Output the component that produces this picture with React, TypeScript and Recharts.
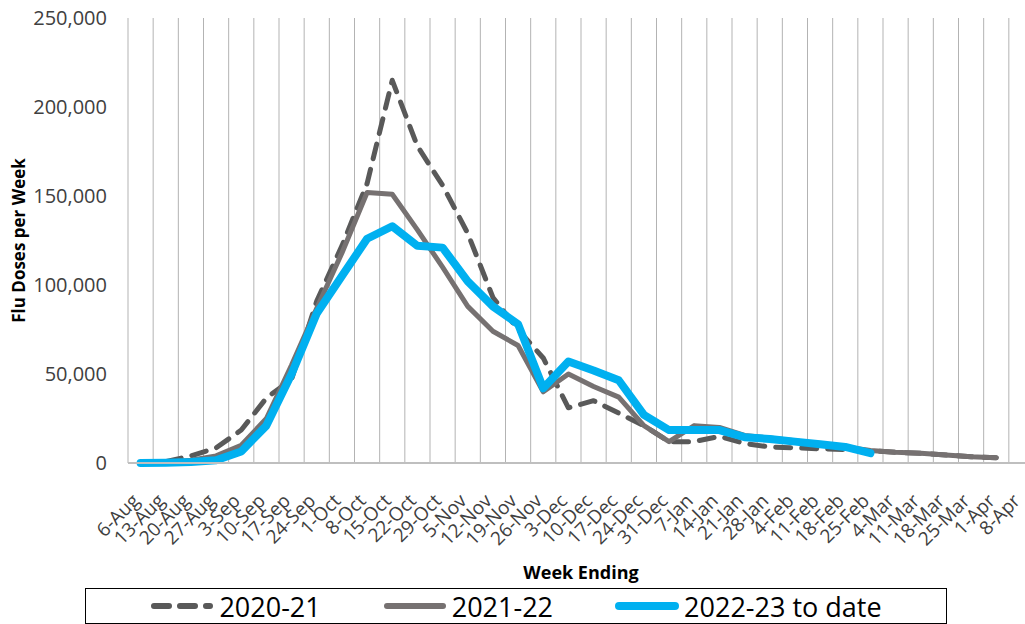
import { CartesianGrid, Line, LineChart, XAxis, YAxis } from "recharts"

const weeks = [
  "6-Aug", "13-Aug", "20-Aug", "27-Aug", "3-Sep", "10-Sep", "17-Sep", "24-Sep",
  "1-Oct", "8-Oct", "15-Oct", "22-Oct", "29-Oct", "5-Nov", "12-Nov", "19-Nov",
  "26-Nov", "3-Dec", "10-Dec", "17-Dec", "24-Dec", "31-Dec", "7-Jan", "14-Jan",
  "21-Jan", "28-Jan", "4-Feb", "11-Feb", "18-Feb", "25-Feb", "4-Mar", "11-Mar",
  "18-Mar", "25-Mar", "1-Apr", "8-Apr",
]

const season2020 = [
  0, 800, 4000, 8500, 18500, 36500, 47000, 91000, 122000, 157000, 215000, 178000,
  156000, 129000, 93000, 75000, 59000, 31000, 35000, 28000, 21000, 12000, 12000, 15000,
  11000, 9000, 8500, 8000, 7500, 7000, 6000, 5500, 4500, 3500, 3000, null,
]

const season2021 = [
  0, 300, 1500, 4000, 10000, 25000, 55000, 87000, 118000, 152000, 151000, 131000,
  110000, 88000, 74000, 66000, 40000, 50000, 43000, 37000, 21000, 12000, 21000, 20000,
  15500, 14000, 12500, 10500, 9000, 7000, 6000, 5500, 4500, 3500, 3000, null,
]

const season2022 = [
  0, 200, 500, 1500, 6500, 21000, 50000, 84000, 105000, 126000, 133000, 122000,
  121000, 102000, 88000, 78000, 42000, 57000, 52000, 46500, 27000, 18500, 18500, 18500,
  14500, 13500, 12000, 10500, 9000, 5500, null, null, null, null, null, null,
]

const yTicks = [0, 50000, 100000, 150000, 200000, 250000]

const series = [
  { key: "s2020", name: "2020-21", color: "#595959", width: 5, dash: "15 11" },
  { key: "s2021", name: "2021-22", color: "#767171", width: 5, dash: undefined },
  { key: "s2022", name: "2022-23 to date", color: "#00B0F0", width: 8, dash: undefined },
]

const data = weeks.map((week, i) => ({
  week,
  s2020: season2020[i],
  s2021: season2021[i],
  s2022: season2022[i],
}))

const FONT = '"Open Sans", sans-serif'
const TEXT = "#404040"

function WeekTick({ x, y, payload }: any) {
  const ax = x - 5
  const ay = y + 26
  return (
    <text
      x={ax}
      y={ay}
      transform={`rotate(-45 ${ax} ${ay})`}
      textAnchor="end"
      dominantBaseline="central"
      fontFamily={FONT}
      fontSize={19}
      fill={TEXT}
    >
      {payload.value}
    </text>
  )
}

function YTitle({ viewBox }: any) {
  const cx = viewBox.x + 18
  const cy = viewBox.y + viewBox.height / 2
  return (
    <text
      x={cx}
      y={cy}
      transform={`rotate(-90 ${cx} ${cy})`}
      textAnchor="middle"
      dominantBaseline="central"
      fontFamily={FONT}
      fontWeight="bold"
      fontSize={17}
      fill="#000"
    >
      Flu Doses per Week
    </text>
  )
}

function XTitle({ viewBox }: any) {
  const cx = viewBox.x + viewBox.width / 2
  const cy = viewBox.y + 109
  return (
    <text
      x={cx}
      y={cy}
      textAnchor="middle"
      dominantBaseline="central"
      fontFamily={FONT}
      fontWeight="bold"
      fontSize={18}
      fill="#000"
    >
      Week Ending
    </text>
  )
}

function LegendBox() {
  return (
    <div
      style={{
        position: "absolute",
        left: 85,
        top: 588,
        width: 860,
        height: 34,
        border: "1.5px solid #000",
        display: "flex",
        alignItems: "center",
        justifyContent: "center",
        gap: 62,
        fontFamily: FONT,
        fontSize: 27,
        color: "#000",
      }}
    >
      {series.map((s) => (
        <div key={s.key} style={{ display: "flex", alignItems: "center", gap: 5 }}>
          <svg width={64} height={12}>
            <line
              x1={4}
              y1={6}
              x2={60}
              y2={6}
              stroke={s.color}
              strokeWidth={s.key === "s2022" ? 8 : 6}
              strokeLinecap="round"
              strokeDasharray={s.dash}
            />
          </svg>
          <span>{s.name}</span>
        </div>
      ))}
    </div>
  )
}

export default function App() {
  return (
    <div
      style={{
        position: "absolute",
        left: 0,
        top: 0,
        width: 1025,
        height: 624,
        overflow: "hidden",
        background: "#fff",
      }}
    >
      <LineChart
        width={1045}
        height={624}
        data={data}
        margin={{ top: 18, right: 11, bottom: 0, left: 0 }}
      >
        <CartesianGrid
          horizontal={false}
          stroke="#B3B3B3"
          verticalCoordinatesGenerator={({ offset }: any) =>
            Array.from({ length: weeks.length + 1 }, (_, k) => offset.left + (k * offset.width) / weeks.length)
          }
        />
        <XAxis
          dataKey="week"
          scale="band"
          interval={0}
          height={161}
          tickLine={false}
          axisLine={{ stroke: "#BFBFBF", strokeWidth: 2 }}
          tick={<WeekTick />}
          label={<XTitle />}
        />
        <YAxis
          width={128}
          domain={[0, 250000]}
          ticks={yTicks}
          interval={0}
          axisLine={false}
          tickLine={false}
          tickSize={6}
          tickMargin={15}
          tick={{ fontFamily: FONT, fontSize: 20, fill: TEXT }}
          tickFormatter={(v: number) => v.toLocaleString("en-US")}
          label={<YTitle />}
        />
        {series.map((s) => (
          <Line
            key={s.key}
            type="linear"
            dataKey={s.key}
            name={s.name}
            stroke={s.color}
            strokeWidth={s.width}
            strokeDasharray={s.dash}
            strokeLinecap="round"
            strokeLinejoin="round"
            dot={false}
            activeDot={false}
            isAnimationActive={false}
          />
        ))}
      </LineChart>
      <LegendBox />
    </div>
  )
}
